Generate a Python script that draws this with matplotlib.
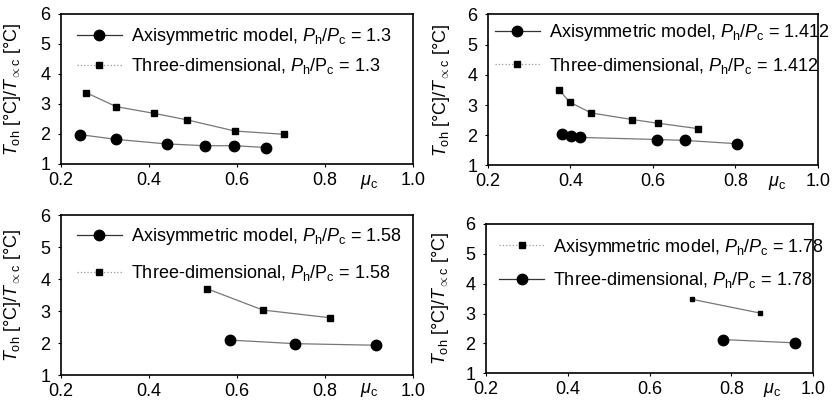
import matplotlib.pyplot as plt
from matplotlib.lines import Line2D

plt.rcParams['font.family'] = ['Liberation Sans', 'DejaVu Sans']
plt.rcParams['mathtext.fontset'] = 'custom'
plt.rcParams['mathtext.rm'] = 'Liberation Sans'
plt.rcParams['mathtext.it'] = 'Liberation Sans:italic'

# data: (mu_c, T_oh/T_oc)
mu_axi_130 = [0.243, 0.326, 0.440, 0.527, 0.594, 0.665]
t_axi_130 = [1.98, 1.82, 1.67, 1.61, 1.61, 1.55]
mu_3d_130 = [0.257, 0.326, 0.411, 0.487, 0.595, 0.707]
t_3d_130 = [3.38, 2.91, 2.69, 2.47, 2.10, 1.99]

mu_axi_1412 = [0.380, 0.401, 0.422, 0.610, 0.678, 0.804]
t_axi_1412 = [2.05, 1.99, 1.93, 1.86, 1.83, 1.72]
mu_3d_1412 = [0.372, 0.398, 0.450, 0.550, 0.612, 0.709]
t_3d_1412 = [3.51, 3.10, 2.74, 2.52, 2.40, 2.22]

mu_axi_158 = [0.585, 0.731, 0.915]
t_axi_158 = [2.09, 1.98, 1.93]
mu_3d_158 = [0.533, 0.659, 0.811]
t_3d_158 = [3.69, 3.03, 2.79]

# in the last panel the legend names are swapped in the original
mu_sq_178 = [0.703, 0.869]
t_sq_178 = [3.48, 3.02]
mu_ci_178 = [0.779, 0.955]
t_ci_178 = [2.13, 2.02]

ratios = ['1.3', '1.412', '1.58', '1.78']
xticks = [0.2, 0.4, 0.6, 0.8, 1.0]
yticks = [1, 2, 3, 4, 5, 6]

FS = 13
LINE = '#777777'

fig = plt.figure(figsize=(8.34, 4.0), dpi=100)
positions = [
    [0.0731, 0.590, 0.4220, 0.375],
    [0.5851, 0.5863, 0.3957, 0.3775],
    [0.0731, 0.0625, 0.4220, 0.400],
    [0.5827, 0.0667, 0.3925, 0.3733],
]
panels = [
    (mu_axi_130, t_axi_130, mu_3d_130, t_3d_130),
    (mu_axi_1412, t_axi_1412, mu_3d_1412, t_3d_1412),
    (mu_axi_158, t_axi_158, mu_3d_158, t_3d_158),
    (mu_ci_178, t_ci_178, mu_sq_178, t_sq_178),
]
legend_anchor = [(0.045, 0.92), (0.02, 0.95), (0.045, 0.93), (0.04, 0.915)]
label_spacing = [0.5, 0.7, 0.9, 0.7]
mu_label_y = [-0.12, -0.115, -0.095, -0.11]

for i, (pos, (mc, tc, ms, ts)) in enumerate(zip(positions, panels)):
    ax = fig.add_axes(pos)
    ax.plot(mc, tc, '-', color=LINE, lw=0.9, marker='o', ms=7.5,
            mfc='black', mec='black', zorder=3)
    sq = 4.5 if i < 3 else 3.5
    ax.plot(ms, ts, '-', color=LINE, lw=0.9, marker='s', ms=sq,
            mfc='black', mec='black', zorder=3)

    ax.set_xlim(0.2, 1.0)
    ax.set_ylim(1, 6)
    ax.set_xticks(xticks)
    ax.set_xticklabels([f'{v:.1f}' for v in xticks])
    ax.set_yticks(yticks)
    ax.tick_params(labelsize=FS, length=2.5, width=0.8, direction='out')
    ax.tick_params(axis='y', pad=5)
    ax.tick_params(axis='x', pad=3)
    for s in ax.spines.values():
        s.set_linewidth(1.2)

    ax.set_ylabel(r'$T_\mathrm{oh}$ [°C]/$T_{\propto\mathrm{c}}$ [°C]', fontsize=FS)
    ax.yaxis.set_label_coords(-0.108, 0.5)
    ax.text(0.875, mu_label_y[i], r'$\mu_\mathrm{c}$', transform=ax.transAxes,
            fontsize=FS, ha='center', va='center')

    r = ratios[i]
    circ = Line2D([], [], color='#333333', lw=0.9, marker='o', ms=7.5,
                  mfc='black', mec='black')
    sqh = Line2D([], [], color='#999999', lw=0.9, ls=':', marker='s', ms=4,
                 mfc='black', mec='black')
    lab1 = 'Axisymmetric model, $P_\\mathrm{h}$/$P_\\mathrm{c}$ = ' + r
    lab2 = 'Three-dimensional, $P_\\mathrm{h}$/P$_\\mathrm{c}$ = ' + r
    if i < 3:
        handles = [circ, sqh]
    else:
        handles = [sqh, circ]
    ax.legend(handles, [lab1, lab2], loc='upper left',
              bbox_to_anchor=legend_anchor[i], borderaxespad=0, borderpad=0,
              frameon=False, fontsize=FS, handlelength=2.5,
              handletextpad=0.5, labelspacing=label_spacing[i])

plt.savefig('out.png', dpi=100)
